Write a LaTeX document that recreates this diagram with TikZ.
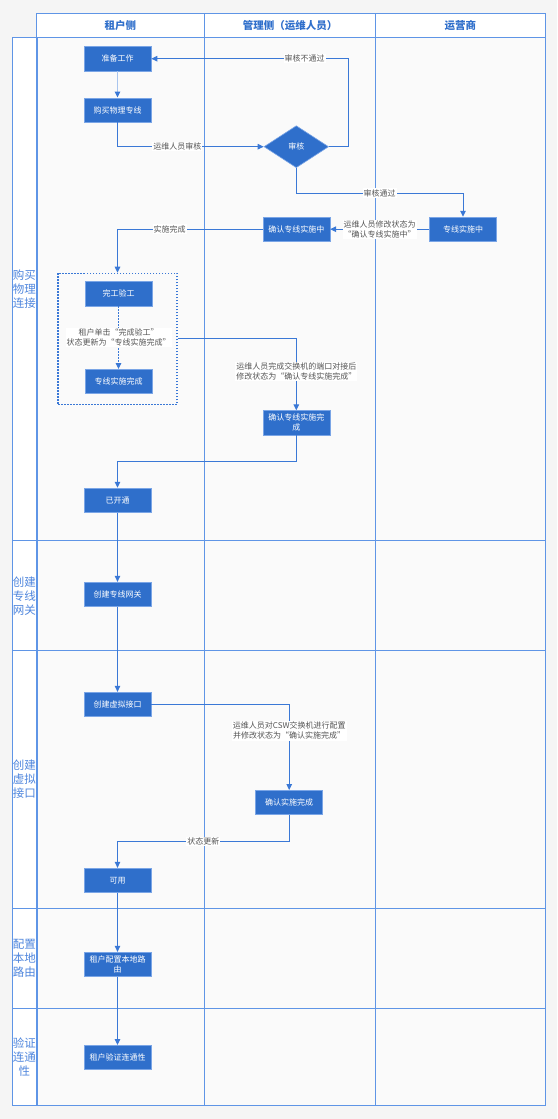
\documentclass[tikz,border=0pt]{standalone}
\usepackage{fontspec}
\setmainfont{Noto Sans CJK SC}
\usetikzlibrary{shapes.geometric,arrows.meta}
\definecolor{nodeblue}{HTML}{2F6FCB}
\definecolor{nodeedge}{HTML}{7AA5E6}
\definecolor{lineblue}{HTML}{3A78D6}
\definecolor{lightline}{HTML}{A9C5EE}
\definecolor{laneline}{HTML}{5F95E6}
\definecolor{lanebg}{HTML}{FAFAFA}
\definecolor{pagebg}{HTML}{F5F5F5}
\definecolor{headtext}{HTML}{2F6FCB}
\definecolor{rowtext}{HTML}{4F86DD}
\definecolor{labtext}{HTML}{555555}
\begin{document}
\begin{tikzpicture}[x=1pt,y=-1pt,
 proc/.style={rectangle, fill=nodeblue, draw=nodeedge, line width=0.6pt, text=white, font=\fontsize{8}{10}\selectfont, minimum width=67pt, minimum height=24.3pt, inner sep=1pt, align=center},
 dec/.style={diamond, fill=nodeblue, draw=nodeedge, line width=0.6pt, text=white, font=\fontsize{8}{10}\selectfont, minimum width=64.6pt, minimum height=42pt, inner sep=0pt},
 arr/.style={draw=lineblue, line width=1pt, -{Triangle[length=6pt,width=5.5pt]}},
 lab/.style={fill=white, text=labtext, font=\fontsize{8}{10}\selectfont, inner sep=1pt, align=center},
 head/.style={text=headtext, font=\fontsize{10.5}{12}\selectfont\bfseries},
 rowlab/.style={text=rowtext, font=\fontsize{11.5}{14}\selectfont, align=center, inner sep=0pt},
 lane/.style={draw=laneline, line width=1pt}
]
\fill[pagebg] (0,0) rectangle (557,1119);
\useasboundingbox (0,0) rectangle (557,1119);
\fill[lanebg] (36.2,37.7) rectangle (545.3,1105);
\fill[white] (36.2,13.3) rectangle (545.3,37.7);
\fill[white] (12.4,37.7) rectangle (36.2,1105);
\draw[lane] (36.2,13.3) rectangle (545.3,1105);
\draw[lane] (12.4,37.7) rectangle (37.4,1105);
\draw[lane] (12.4,37.7) -- (545.3,37.7);
\foreach \x in {204.6,375.5} \draw[lane] (\x,13.3) -- (\x,1105);
\foreach \y in {540.3,650.3,908.3,1008.7} \draw[lane] (12.4,\y) -- (545.3,\y);

\node[head] (h1) at (120.4,25.5) {租户侧};
\node[head] (h2) at (290,25.5) {管理侧（运维人员）};
\node[head] (h3) at (460.4,25.5) {运营商};

\node[rowlab] (r1) at (24.3,289.5) {购买\\物理\\连接};
\node[rowlab] (r2) at (24.3,595.8) {创建\\专线\\网关};
\node[rowlab] (r3) at (24.3,779.3) {创建\\虚拟\\接口};
\node[rowlab] (r4) at (24.3,958.5) {配置\\本地\\路由};
\node[rowlab] (r5) at (24.3,1056.9) {验证\\连通\\性};

\node[proc] (zb) at (117.5,58.7) {准备工作};
\node[proc] (gm) at (117.5,110) {购买物理专线};
\node[dec] (sh) at (296.3,146.7) {审核};
\node[proc] (qs) at (296.3,229.2) {确认专线实施中};
\node[proc] (zx) at (463,229.2) {专线实施中};
\node[proc] (wg) at (118.5,293.8) {完工验工};
\node[proc] (ss) at (118.5,381.5) {专线实施完成};
\node[draw=lineblue, dash pattern=on 1.5pt off 1.5pt, line width=1.2pt, minimum width=119pt, minimum height=131pt, inner sep=0pt] (box) at (117.5,338.8) {};
\node[proc] (qw) at (296.3,422.8) {确认专线实施完\\成};
\node[proc] (ykt) at (117.5,500.2) {已开通};
\node[proc] (wgw) at (117.5,594.3) {创建专线网关};
\node[proc] (xn) at (117.5,704.3) {创建虚拟接口};
\node[proc] (qc) at (289.2,802.5) {确认实施完成};
\node[proc] (ky) at (117.5,880.3) {可用};
\node[proc] (ly) at (117.5,964.3) {租户配置本地路\\由};
\node[proc] (lt) at (117.5,1057.5) {租户验证连通性};

\coordinate (nb) at (348,0);
\draw[draw=lightline, line width=1pt, -{Triangle[length=6pt,width=5.5pt,color=lineblue]}] (zb) -- (gm);
\draw[arr] (gm.south) |- node[lab,pos=0.705]{运维人员审核} (sh.west);
\draw[arr] (sh.east) -| (nb |- zb.east) -- node[lab,pos=0.22]{审核不通过} (zb.east);
\draw[arr] (sh.south) -- ++(0,25) -| node[lab,pos=0.25]{审核通过} (zx.north);
\draw[arr] (zx.west) -- node[lab]{运维人员修改状态为\\“确认专线实施中”} (qs.east);
\draw[arr] (qs.west) -| node[lab,pos=0.32]{实施完成} (box.north);
\draw[arr, dash pattern=on 1.5pt off 1.5pt] (wg) -- node[lab]{租户单击“完成验工”\\状态更新为“专线实施完成”} (ss);
\draw[arr] (box.east) -| node[lab,pos=0.73]{运维人员完成交换机的端口对接后\\修改状态为“确认专线实施完成”} (qw.north);
\draw[arr] (qw.south) -- ++(0,26.7) -| (ykt.north);
\draw[arr] (ykt) -- (wgw);
\draw[arr] (wgw) -- (xn);
\draw[arr] (xn.east) -| node[lab,pos=0.655]{运维人员对CSW交换机进行配置\\并修改状态为“确认实施完成”} (qc.north);
\draw[arr] (qc.south) -- ++(0,26.3) -| node[lab,pos=0.25]{状态更新} (ky.north);
\draw[arr] (ky) -- (ly);
\draw[arr] (ly) -- (lt);
\end{tikzpicture}
\end{document}
